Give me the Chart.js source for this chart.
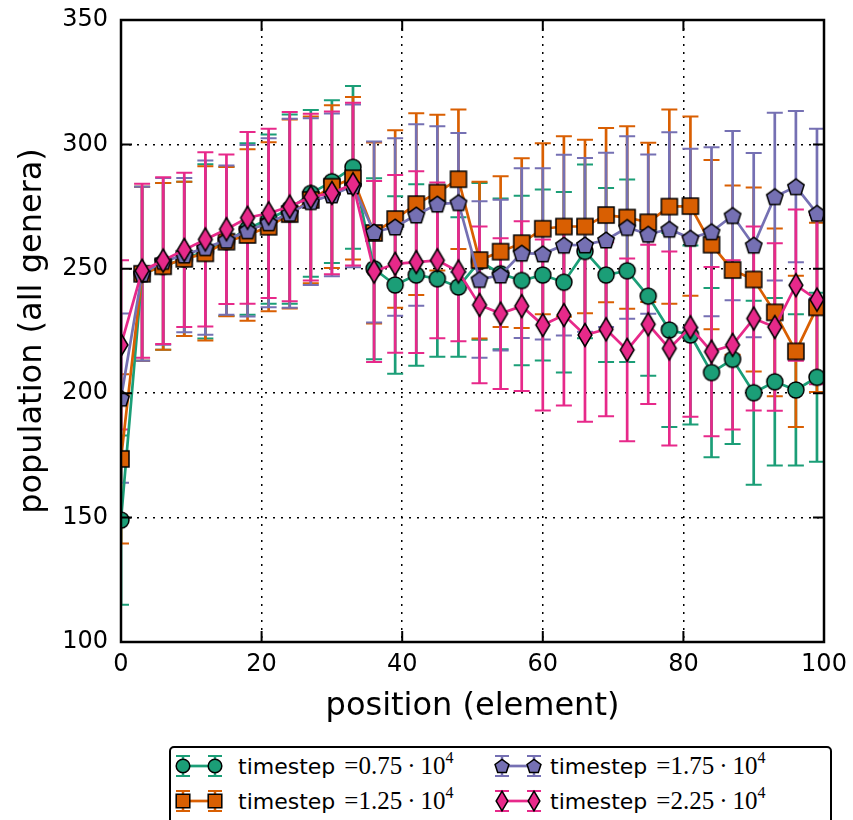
<!DOCTYPE html>
<html>
<head>
<meta charset="utf-8">
<script src="https://cdn.jsdelivr.net/npm/chart.js@4.4.0/dist/chart.umd.min.js"></script>
<style>
  html, body { margin: 0; padding: 0; background: #fff; overflow: hidden; }
  #wrap { position: relative; width: 853px; height: 820px; overflow: hidden; }
  #legend { position: absolute; left: 169px; top: 746px; width: 663px; height: 100px;
            border: 2px solid #000; border-radius: 5px; box-sizing: border-box; background: #fff; }
  #legend canvas { position: absolute; }
  .txt { position: absolute; height: 34px; line-height: 34px; white-space: nowrap; color: #000; }
  .word { font-family: "DejaVu Sans"; font-size: 22px; }
  .math { font-family: "Liberation Serif"; font-size: 25px; margin-left: 9px; }
  .math sup { font-size: 16px; vertical-align: 11px; line-height: 0; }
</style>
</head>
<body>
<div id="wrap">
  <canvas id="populacao" width="853" height="820"></canvas>
  <div id="legend"></div>
</div>
<script>
// -------------------------------------- Dados -----------------------------

// Eixo X: posição (elemento)
const positions = [0, 3, 6, 9, 12, 15, 18, 21, 24, 27, 30, 33, 36, 39, 42, 45, 48,
                   51, 54, 57, 60, 63, 66, 69, 72, 75, 78, 81, 84, 87, 90, 93, 96, 99];

// Rótulos dos timesteps (x 10^4)
const timesteps = ['0.75', '1.25', '1.75', '2.25'];

// População (todos os gêneros) por timestep
const pop075 = [149, 248, 251, 254, 257, 261, 266, 270, 274, 280.3, 285, 290.8,
                250, 243.5, 247.5, 246, 242.7, 253, 248, 245.3, 247.5, 244.6, 257,
                247.5, 249.2, 239, 225.4, 223.4, 208.3, 213.6, 200.2, 204.6, 201.3, 206.4];
const pop125 = [173.6, 248, 251, 254, 256.2, 260.9, 263.6, 266.9, 272, 277.7, 283, 286.4,
                264.4, 270, 276, 280.6, 286, 253.5, 256.9, 260.3, 266.1, 267, 267,
                271.6, 270.6, 268.7, 275, 275.2, 259.7, 249.5, 245.7, 232.5, 216.8, 234.5];
const pop175 = [198, 248, 253, 255.5, 258.5, 261.5, 265.3, 268.5, 272.3, 277, 279.7, 283.3,
                264.8, 266.8, 271.6, 276, 276.6, 245.7, 247.5, 256.3, 256, 259.5, 259.6,
                261.6, 266.6, 263.9, 265.9, 262.3, 264.9, 271.4, 259.5, 279, 283, 272.3];
const pop225 = [219.4, 249.2, 253.3, 257.6, 261.8, 265.9, 270.5, 272.3, 275, 278.8, 280.5, 284,
                248.9, 252, 252.7, 253.4, 248.9, 235.5, 232, 235, 227.4, 231.4, 223.4,
                225.7, 217.4, 227.7, 218, 226.5, 216.7, 219.4, 230, 226.6, 243.4, 237.6];

// Meia altura das barras de erro (igual para as quatro séries)
const errHalf = [34, 35, 33.5, 31, 35, 30, 34.5, 34, 38, 33.5, 32.7, 32.7,
                 36.4, 35.7, 36.5, 31.3, 28, 31.5, 30.3, 34.1, 34.4, 36.3, 34.9,
                 35, 36.7, 32, 39, 36, 34, 34, 37, 33.7, 30.4, 34];

// Eixos
const xTickStep = 20;
const yTickStep = 50;

// -------------------------------------- Estilo -----------------------------

const colors = ['#1b9e77', '#d95f02', '#7570b3', '#e7298a'];
const shapes = ['circle', 'square', 'pentagon', 'diamond'];
const seriesValues = [pop075, pop125, pop175, pop225];

// Desenha um marcador (estilo matplotlib) num canvas pequeno
function makeMarker(shape, color, scale) {
  const s = scale || 1;
  const c = document.createElement('canvas');
  c.width = c.height = Math.ceil(28 * s);
  const g = c.getContext('2d');
  const m = c.width / 2;
  g.beginPath();
  if (shape === 'circle') {
    g.arc(m, m, 8 * s, 0, 2 * Math.PI);
  } else if (shape === 'square') {
    g.rect(m - 8 * s, m - 8 * s, 16 * s, 16 * s);
  } else if (shape === 'pentagon') {
    for (let i = 0; i < 5; i++) {
      const a = (-90 + 72 * i) * Math.PI / 180;
      const px = m + 8.6 * s * Math.cos(a), py = m + 0.8 * s + 8.6 * s * Math.sin(a);
      if (i === 0) g.moveTo(px, py); else g.lineTo(px, py);
    }
  } else {
    g.moveTo(m, m - 11.5 * s);
    g.lineTo(m + 6.9 * s, m);
    g.lineTo(m, m + 11.5 * s);
    g.lineTo(m - 6.9 * s, m);
  }
  g.closePath();
  g.fillStyle = color;
  g.fill();
  g.lineWidth = 1.5;
  g.strokeStyle = '#000';
  g.stroke();
  return c;
}

const datasets = seriesValues.map((vals, k) => ({
  label: 'timestep =' + timesteps[k] + '·10⁴',
  data: vals.map((v, i) => ({ x: positions[i], y: v })),
  err: errHalf,
  borderColor: colors[k],
  backgroundColor: colors[k],
  borderWidth: 2.7,
  pointStyle: makeMarker(shapes[k], colors[k], 1),
  pointRadius: 8,
  pointHoverRadius: 8,
  tension: 0,
  clip: 0,
  order: 3 - k
}));

// -------------------------------------- Plugins -----------------------------

// Barras de erro desenhadas pelas escalas do gráfico
const errorBars = {
  id: 'errorBars',
  beforeDatasetsDraw(chart) {
    const { ctx, chartArea, scales: { x, y } } = chart;
    ctx.save();
    ctx.beginPath();
    ctx.rect(chartArea.left, chartArea.top, chartArea.width, chartArea.height);
    ctx.clip();
    chart.data.datasets.forEach(ds => {
      ctx.strokeStyle = ds.borderColor;
      ds.data.forEach((p, i) => {
        const px = x.getPixelForValue(p.x);
        const top = y.getPixelForValue(p.y + ds.err[i]);
        const bot = y.getPixelForValue(p.y - ds.err[i]);
        ctx.lineWidth = 2.7;
        ctx.beginPath();
        ctx.moveTo(px, top);
        ctx.lineTo(px, bot);
        ctx.stroke();
        ctx.lineWidth = 2;
        ctx.beginPath();
        ctx.moveTo(px - 8, top); ctx.lineTo(px + 8, top);
        ctx.moveTo(px - 8, bot); ctx.lineTo(px + 8, bot);
        ctx.stroke();
      });
    });
    ctx.restore();
  }
};

// Moldura preta e marcas de escala para dentro, nos quatro lados
const frame = {
  id: 'frame',
  afterDraw(chart) {
    const { ctx, chartArea: a, scales: { x, y } } = chart;
    const tl = 11;
    ctx.save();
    ctx.strokeStyle = '#000';
    ctx.lineWidth = 2;
    ctx.beginPath();
    x.ticks.forEach(t => {
      const px = x.getPixelForValue(t.value);
      ctx.moveTo(px, a.bottom); ctx.lineTo(px, a.bottom - tl);
      ctx.moveTo(px, a.top); ctx.lineTo(px, a.top + tl);
    });
    y.ticks.forEach(t => {
      const py = y.getPixelForValue(t.value);
      ctx.moveTo(a.left, py); ctx.lineTo(a.left + tl, py);
      ctx.moveTo(a.right, py); ctx.lineTo(a.right - tl, py);
    });
    ctx.stroke();
    ctx.lineWidth = 2.5;
    ctx.strokeRect(a.left, a.top, a.right - a.left, a.bottom - a.top);
    ctx.restore();
  }
};

// -------------------------------------- Gráfico -----------------------------

const config = {
  type: 'line',
  data: { datasets: datasets },
  options: {
    responsive: false,
    animation: false,
    devicePixelRatio: 1,
    layout: { padding: { left: 0, top: 20, right: 29, bottom: 0 } },
    plugins: { legend: { display: false }, tooltip: { enabled: false } },
    scales: {
      x: {
        type: 'linear',
        min: 0,
        max: 100,
        ticks: { stepSize: xTickStep, color: '#000', padding: 8, maxRotation: 0,
                 font: { family: 'DejaVu Sans', size: 24 } },
        grid: { color: '#000', lineWidth: 1.5, drawTicks: false },
        border: { display: false, dash: [2, 6] },
        title: { display: true, text: 'position (element)', color: '#000',
                 font: { family: 'DejaVu Sans', size: 32 }, padding: { top: 0, bottom: 94 } },
        afterFit: s => { s.height = 178; s.paddingLeft = 0; s.paddingRight = 0; }
      },
      y: {
        type: 'linear',
        min: 100,
        max: 350,
        ticks: { stepSize: yTickStep, color: '#000', padding: 13,
                 font: { family: 'DejaVu Sans', size: 24 } },
        grid: { color: '#000', lineWidth: 1.5, drawTicks: false },
        border: { display: false, dash: [2, 6] },
        title: { display: true, text: 'population (all genera)', color: '#000',
                 font: { family: 'DejaVu Sans', size: 32 }, padding: { top: 13, bottom: 0 } },
        afterFit: s => { s.width = 121; s.paddingTop = 0; s.paddingBottom = 0; }
      }
    }
  },
  plugins: [errorBars, frame]
};

const populacao = new Chart(document.getElementById('populacao'), config);

// -------------------------------------- Legenda -----------------------------

const legend = document.getElementById('legend');
// posição de cada entrada: coluna (esquerda do ícone, esquerda do texto), linha (topo)
const legendSlots = [[1, 67, 1], [1, 67, 36], [320, 379, 1], [320, 379, 36]];

timesteps.forEach((ts, k) => {
  const [iconLeft, textLeft, rowTop] = legendSlots[k];
  const icon = document.createElement('canvas');
  icon.width = 54; icon.height = 34;
  icon.style.left = iconLeft + 'px';
  icon.style.top = rowTop + 'px';
  const g = icon.getContext('2d');
  const cy = 17, xs = [11, 43];
  g.strokeStyle = colors[k];
  g.lineWidth = 2.7;
  g.beginPath(); g.moveTo(xs[0], cy); g.lineTo(xs[1], cy); g.stroke();
  xs.forEach(px => {
    g.lineWidth = 2.5;
    g.beginPath(); g.moveTo(px, cy - 10); g.lineTo(px, cy + 10); g.stroke();
    g.lineWidth = 2;
    g.beginPath();
    g.moveTo(px - 7, cy - 10); g.lineTo(px + 7, cy - 10);
    g.moveTo(px - 7, cy + 10); g.lineTo(px + 7, cy + 10);
    g.stroke();
  });
  const mk = makeMarker(shapes[k], colors[k], 0.85);
  xs.forEach(px => g.drawImage(mk, px - mk.width / 2, cy - mk.height / 2));
  legend.appendChild(icon);

  const txt = document.createElement('div');
  txt.className = 'txt';
  txt.style.left = textLeft + 'px';
  txt.style.top = rowTop + 'px';
  txt.innerHTML = '<span class="word">timestep</span><span class="math">=' + ts +
                  '\u2009·\u200910<sup>4</sup></span>';
  legend.appendChild(txt);
});
</script>
</body>
</html>
